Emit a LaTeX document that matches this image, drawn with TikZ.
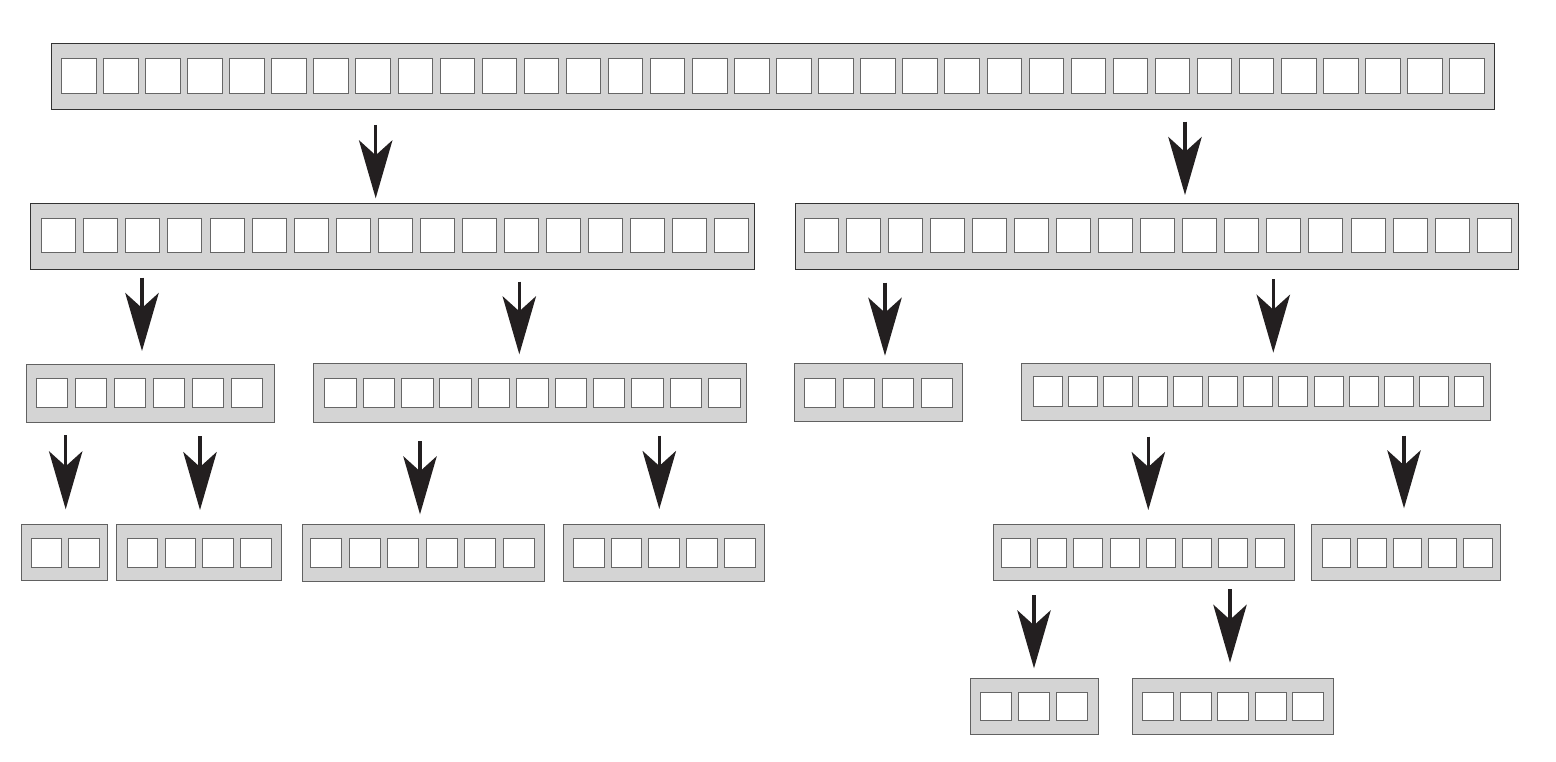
\documentclass[tikz,border=0pt]{standalone}
\usetikzlibrary{arrows.meta}
\definecolor{barfill}{HTML}{D4D4D4}
\definecolor{arrowcol}{HTML}{231F20}
\tikzset{
  barbox/.style={draw=black!80, line width=1.1pt, fill=barfill, inner sep=0pt, anchor=north west},
  lowbar/.style={barbox, draw=black!62},
  cellbox/.style={draw=black!60, line width=0.9pt, fill=white, inner sep=0pt, anchor=north west},
  splitarr/.style={draw=arrowcol, line width=3.4pt, line cap=butt,
    -{Stealth[length=58pt, width=33.4pt, inset=15pt]}},
}
\def\barstyle{barbox}
% #1 name, #2 left, #3 top, #4 right, #5 bottom, #6 first cell x, #7 pitch, #8 cell w, #9 count
\newcommand\cellbar[9]{%
  \node[\barstyle, minimum width={#4-#2}, minimum height={#5-#3}] (#1) at (#2,#3) {};
  \foreach \k in {1,...,#9} {%
    \node[cellbox, minimum width={#8}, minimum height={\cellh}] (#1-\k) at ({#6+(\k-1)*#7},\cellt) {};
  }%
}
\newcommand\splitarrow[4]{%
  \coordinate (#1s) at (#2,#3);
  \coordinate (#1e) at (#2,#4);
  \draw[splitarr] (#1s) -- (#1e);
}
\begin{document}
\begin{tikzpicture}[x=1pt,y=-1pt]
\useasboundingbox (0,0) rectangle (1556,762);
% level 1
\def\cellt{58.3}\def\cellh{34.4}
\cellbar{top}{50.7}{42.7}{1494.3}{109}{61}{42.07}{34.5}{34}
% level 2
\def\cellt{218.3}\def\cellh{34}
\cellbar{la}{30.3}{202.7}{753.7}{268.7}{41.3}{42.06}{34}{17}
\cellbar{lb}{795.3}{202.7}{1518.3}{268.7}{804}{42.04}{34}{17}
% level 3
\def\barstyle{lowbar}
\def\cellt{378}\def\cellh{29.2}
\cellbar{ma}{25.7}{363.6}{273.7}{421.5}{35.7}{39.05}{31.3}{6}
\cellbar{mb}{312.7}{363.3}{746.3}{421.5}{324.3}{38.37}{31.5}{11}
\cellbar{mc}{793.7}{363.3}{962.3}{421}{804}{39.1}{31}{4}
\def\cellt{376.3}\def\cellh{29.7}
\cellbar{md}{1021}{362.7}{1490}{420}{1032.7}{35.1}{29}{13}
% level 4
\def\cellt{538.2}\def\cellh{28.4}
\cellbar{na}{20.7}{524}{107.3}{580}{30.7}{37.7}{30.5}{2}
\cellbar{nb}{116.3}{524}{281.3}{580}{126.7}{37.8}{30.5}{4}
\cellbar{nc}{302.3}{524.3}{543.7}{580.7}{310}{38.5}{31}{6}
\cellbar{nd}{563}{524.3}{764}{580.7}{573}{37.7}{30.7}{5}
\cellbar{ne}{993.3}{524}{1293.7}{580}{1000.6}{36.3}{29}{8}
\cellbar{nf}{1311.3}{524}{1500.3}{580}{1321.7}{35.4}{28.5}{5}
% level 5
\def\cellt{691.7}\def\cellh{28.3}
\cellbar{pa}{970.3}{677.7}{1098.3}{734.3}{980}{38.2}{31}{3}
\cellbar{pb}{1132.3}{677.7}{1333.3}{734.3}{1142.3}{37.5}{31}{5}
% arrows
\splitarrow{a1}{375.7}{125}{198.3}
\splitarrow{a2}{1185}{121.7}{195}
\splitarrow{a3}{142}{277.7}{351}
\splitarrow{a4}{519.3}{281.7}{354.3}
\splitarrow{a5}{885}{282.7}{355.7}
\splitarrow{a6}{1273.3}{279}{352.7}
\splitarrow{a7}{65.7}{435}{509.3}
\splitarrow{a8}{200}{436}{510}
\splitarrow{a9}{420}{441}{514.3}
\splitarrow{a10}{659.3}{435.7}{509}
\splitarrow{a11}{1148.3}{436.7}{510}
\splitarrow{a12}{1404}{435.7}{508.3}
\splitarrow{a13}{1034}{595}{668.3}
\splitarrow{a14}{1230}{589.3}{662.7}
\end{tikzpicture}
\end{document}
